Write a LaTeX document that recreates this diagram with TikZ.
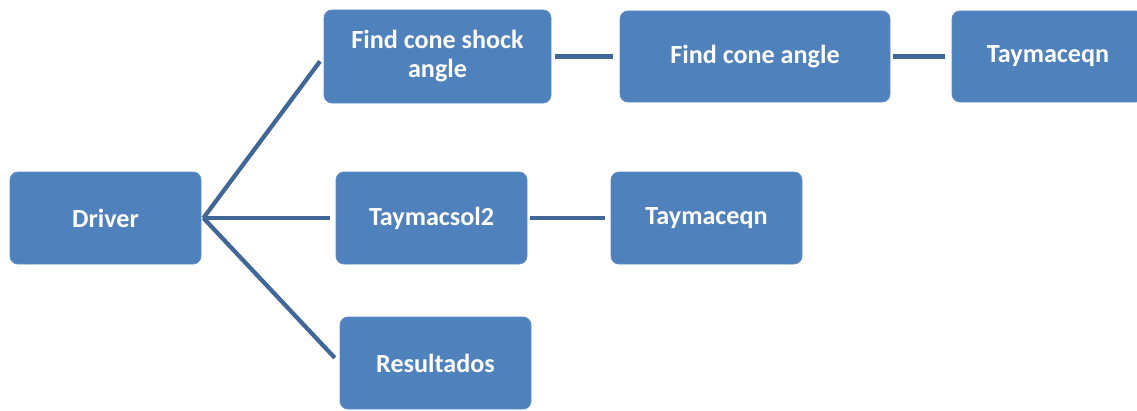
\documentclass[tikz,border=0pt]{standalone}
\usepackage{fontspec}
\setmainfont{Carlito}
\definecolor{boxfill}{RGB}{79,129,189}
\definecolor{boxedge}{RGB}{96,143,199}
\definecolor{linkcol}{RGB}{65,103,152}
\begin{document}
\begin{tikzpicture}[x=0.75pt,y=-0.75pt,
  blockbox/.style={draw=boxedge,line width=0.6pt,fill=boxfill,rounded corners=6pt,
    text=white,font=\bfseries\fontsize{19.6}{21.8}\selectfont,align=center,inner sep=0pt},
  link/.style={draw=linkcol,line width=3.2pt}]
\useasboundingbox (0,0) rectangle (1137,410);
\node[blockbox,minimum width=191*0.75pt,minimum height=92*0.75pt] (drv) at (105.5,218) {Driver};
\node[blockbox,minimum width=227*0.75pt,minimum height=93*0.75pt] (fcs) at (437.5,56.5) {Find cone shock\\angle};
\node[blockbox,minimum width=270*0.75pt,minimum height=91*0.75pt] (fca) at (755,56.5) {Find cone angle};
\node[blockbox,minimum width=192*0.75pt,minimum height=91*0.75pt] (tq1) at (1048,56.5) {Taymaceqn};
\node[blockbox,minimum width=191*0.75pt,minimum height=92*0.75pt] (ts2) at (431.5,218) {Taymacsol2};
\node[blockbox,minimum width=191*0.75pt,minimum height=92*0.75pt] (tq2) at (706.5,218) {Taymaceqn};
\node[blockbox,minimum width=191*0.75pt,minimum height=92*0.75pt] (res) at (435.5,363) {Resultados};
\coordinate (hub) at ([xshift=2*0.75pt]drv.east);
\draw[link,shorten >=6*0.75pt] (hub) -- (fcs.west);
\draw[link,shorten >=6*0.75pt] (hub) -- (ts2.west);
\draw[link,shorten >=7*0.75pt] (hub) -- (res.west);
\draw[link,shorten <=4*0.75pt,shorten >=7*0.75pt] (fcs.east) -- (fca.west);
\draw[link,shorten <=3*0.75pt,shorten >=7*0.75pt] (fca.east) -- (tq1.west);
\draw[link,shorten <=3*0.75pt,shorten >=6*0.75pt] (ts2.east) -- (tq2.west);
\end{tikzpicture}
\end{document}
